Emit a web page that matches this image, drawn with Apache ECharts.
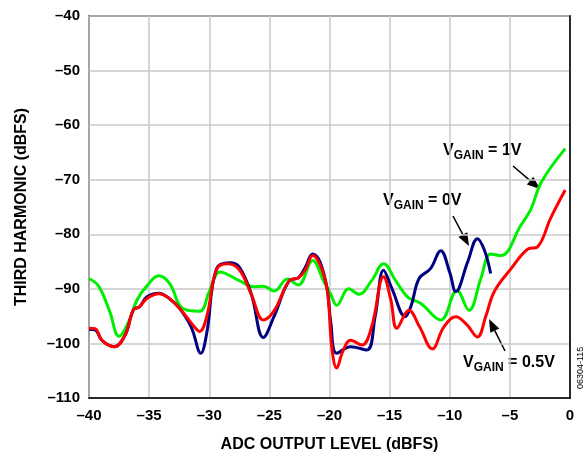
<!DOCTYPE html>
<html>
<head>
<meta charset="utf-8">
<script src="https://cdn.jsdelivr.net/npm/echarts@6/dist/echarts.min.js"></script>
<style>
  html, body { margin: 0; padding: 0; background: #fff; }
  #chart { width: 588px; height: 458px; }
</style>
</head>
<body>
<div id="chart"></div>
<script>
// third harmonic vs ADC output level, one curve per VGAIN
const gain0V = [
  [-40, -97.4], [-39.5, -97.5], [-38.9, -99.5], [-37.9, -100.6], [-37, -98.5],
  [-36.3, -93.8], [-35.8, -93.3], [-35.2, -91.5], [-34.2, -90.8], [-33.3, -91.8],
  [-32.5, -93.5], [-31.5, -97], [-30.7, -101.8], [-30.2, -98], [-29.4, -86.3],
  [-28.3, -85.2], [-27.5, -86], [-26.5, -91], [-25.5, -98.9], [-24.6, -95],
  [-23.3, -88.4], [-22.6, -88], [-22, -86], [-21.4, -83.6], [-20.8, -85],
  [-20.2, -90], [-19.9, -96], [-19.4, -101.8], [-18.25, -100.6], [-16.9, -101.2],
  [-16.2, -95], [-15.5, -86.6], [-14.8, -90], [-13.7, -95.1], [-13.2, -93],
  [-12.55, -88.1], [-11.6, -86.3], [-10.75, -83], [-10, -87], [-9.5, -90.5],
  [-8.5, -85], [-7.7, -80.8], [-7.1, -83], [-6.6, -87.2]
];
const gain05V = [
  [-40, -97.2], [-39.5, -97.3], [-38.9, -99.5], [-37.9, -100.6], [-37, -98.5],
  [-36.3, -93.8], [-35.8, -93.3], [-35.2, -91.8], [-34.2, -90.9], [-33.3, -91.8],
  [-32.3, -94], [-31.3, -96.8], [-30.8, -97.8], [-30.2, -95], [-29.4, -86.5],
  [-28.5, -85.4], [-27.5, -86.5], [-26.5, -91], [-25.5, -95.7], [-24.6, -94],
  [-23.3, -88.4], [-22.6, -88], [-22, -86.5], [-21.4, -83.9], [-20.8, -85.5],
  [-20.2, -90], [-19.8, -100.9], [-19.4, -104.5], [-18.9, -101.5], [-18.25, -99.4],
  [-17.3, -100.3], [-16.5, -97], [-15.5, -87.8], [-14.9, -92], [-14.4, -97.2],
  [-13.4, -93.9], [-12.5, -97], [-11.45, -101], [-10.5, -97], [-9.5, -95.1],
  [-8.6, -96.5], [-7.7, -98.8], [-7, -95], [-6.3, -90.5], [-4.9, -86.3],
  [-3.5, -82.7], [-2.7, -82.3], [-1.6, -77], [-0.4, -71.9]
];
const gain1V = [
  [-40, -88.1], [-39.2, -89.5], [-38.3, -94], [-37.5, -98.7], [-36.7, -96],
  [-36, -92], [-35.2, -89.5], [-34.2, -87.6], [-33.3, -89], [-32.2, -93.6],
  [-30.8, -94.1], [-30, -90.5], [-29.1, -86.9], [-27.5, -88.5], [-26.3, -89.6],
  [-25.5, -89.5], [-24.6, -90.4], [-23.5, -88.2], [-22.6, -89.3], [-21.4, -84.8],
  [-20.5, -88.5], [-19.9, -91], [-19.4, -93], [-18.4, -90], [-17.55, -91],
  [-16.5, -88.5], [-15.5, -85.4], [-14.5, -88.5], [-13.5, -91.5], [-12.4, -92.7],
  [-10.75, -95.7], [-9.4, -90.3], [-8.4, -93.9], [-7.4, -88], [-6.6, -83.6],
  [-5.75, -83.9], [-4.1, -78.4], [-3.25, -75.4], [-2.4, -70.5], [-0.4, -64.3]
];

const xTicks = { min: -40, max: 0, step: 5 };
const yTicks = { min: -110, max: -40, step: 10 };

const font = 'Liberation Sans, Arial, sans-serif';
const dash = v => String(v).replace('-', '\u2013');

function arrow(x1, y1, x2, y2) {
  const a = Math.atan2(y2 - y1, x2 - x1);
  const L = 13, W = 5;
  const bx = x2 - L * Math.cos(a), by = y2 - L * Math.sin(a);
  return [
    { type: 'line', shape: { x1, y1, x2: bx, y2: by }, style: { stroke: '#000', lineWidth: 1.5 } },
    { type: 'polygon', shape: { points: [
      [x2, y2],
      [bx + W * Math.sin(a), by - W * Math.cos(a)],
      [bx - W * Math.sin(a), by + W * Math.cos(a)]
    ] }, style: { fill: '#000' } }
  ];
}

function gainLabel(x, y, val) {
  return {
    type: 'text', left: x, top: y,
    style: {
      text: '{v|V}{s|GAIN}{v| = ' + val + '}',
      rich: {
        v: { fontFamily: font, fontWeight: 'bold', fontSize: 16, fill: '#000' },
        s: { fontFamily: font, fontWeight: 'bold', fontSize: 12, fill: '#000', padding: [9, 0, 0, 0] }
      }
    }
  };
}

const chart = echarts.init(document.getElementById('chart'));
chart.setOption({
  animation: false,
  backgroundColor: '#fff',
  grid: { left: 89, right: 18, top: 16, bottom: 58, show: true, borderColor: '#000', borderWidth: 1.5 },
  xAxis: {
    type: 'value', min: xTicks.min, max: xTicks.max, interval: xTicks.step,
    name: 'ADC OUTPUT LEVEL (dBFS)', nameLocation: 'middle', nameGap: 39,
    nameTextStyle: { fontFamily: font, fontWeight: 'bold', fontSize: 16, color: '#000' },
    axisLine: { lineStyle: { color: '#000', width: 1.5 } },
    axisTick: { show: false },
    axisLabel: { fontFamily: font, fontWeight: 'bold', fontSize: 15, color: '#000', margin: 10, formatter: dash },
    splitLine: { lineStyle: { color: '#c8c8c8', width: 1.5 } }
  },
  yAxis: {
    type: 'value', min: yTicks.min, max: yTicks.max, interval: yTicks.step,
    name: 'THIRD HARMONIC (dBFS)', nameLocation: 'middle', nameGap: 59,
    nameTextStyle: { fontFamily: font, fontWeight: 'bold', fontSize: 16, color: '#000' },
    axisLine: { lineStyle: { color: '#000', width: 1.5 } },
    axisTick: { show: false },
    axisLabel: { fontFamily: font, fontWeight: 'bold', fontSize: 15, color: '#000', margin: 9, formatter: dash },
    splitLine: { lineStyle: { color: '#c8c8c8', width: 1.5 } }
  },
  series: [
    { type: 'line', name: '1V', data: gain1V, smooth: 0.4, showSymbol: false, lineStyle: { color: '#00ee00', width: 3 } },
    { type: 'line', name: '0V', data: gain0V, smooth: 0.4, showSymbol: false, lineStyle: { color: '#000080', width: 3 } },
    { type: 'line', name: '0.5V', data: gain05V, smooth: 0.4, showSymbol: false, lineStyle: { color: '#ff0000', width: 3 } }
  ],
  graphic: [
    gainLabel(443, 143, '1V'),
    ...arrow(513, 166, 540, 189),
    gainLabel(383, 193, '0V'),
    ...arrow(453, 216, 469, 246),
    gainLabel(463, 355, '0.5V'),
    ...arrow(505, 351, 489, 319),
    {
      type: 'text', x: 576, y: 389, rotation: Math.PI / 2,
      style: { text: '06304-115', fontFamily: font, fontSize: 9, fill: '#000' }
    }
  ]
});
</script>
</body>
</html>
